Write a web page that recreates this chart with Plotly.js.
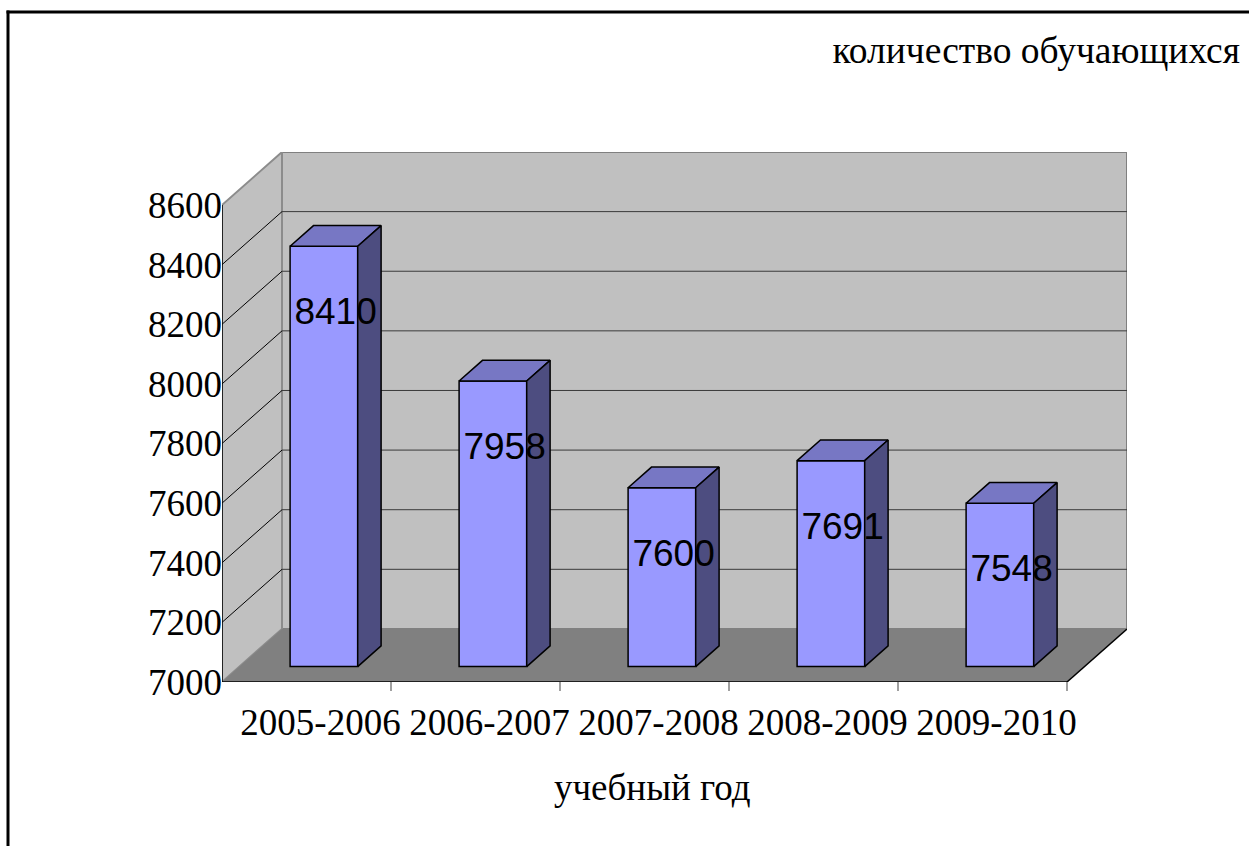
<!DOCTYPE html>
<html>
<head>
<meta charset="utf-8">
<script src="https://cdn.plot.ly/plotly-3.0.1.min.js"></script>
<style>html,body{margin:0;padding:0;background:#fff;overflow:hidden;}#chart{width:1249px;height:846px;}</style>
</head>
<body>
<div id="chart"></div>
<script>
// ---- data ----
const categories = ['2005-2006', '2006-2007', '2007-2008', '2008-2009', '2009-2010'];
const values = [8410, 7958, 7600, 7691, 7548];
const yTickValues = [7000, 7200, 7400, 7600, 7800, 8000, 8200, 8400, 8600];
const chartTitle = 'количество обучающихся';
const xTitle = 'учебный год';

// ---- 3D geometry (in axis units) ----
const YMIN = 7000, YMAX = 8600;
const DX = 0.355;   // depth shift along x (category units)
const DY = 178;     // depth shift along y (value units)
const F0 = 0.29;    // depth position of bar front face
const DB = 0.39;    // bar depth fraction
const BW = 0.40;    // bar width
const LABEL_DROP = 265;
const TICK_SHIFT = 0.083;

const xs = categories.map((c, i) => i);
const frontX = xs.map(x => x + F0 * DX);
const base = YMIN + F0 * DY;

const topX = [], topY = [], sideX = [], sideY = [];
values.forEach((v, i) => {
  const xl = frontX[i] - BW / 2, xr = frontX[i] + BW / 2;
  const top = v + F0 * DY;
  const ddx = DB * DX, ddy = DB * DY;
  topX.push(xl, xr, xr + ddx, xl + ddx, xl, null);
  topY.push(top, top, top + ddy, top + ddy, top, null);
  sideX.push(xr, xr + ddx, xr + ddx, xr, xr, null);
  sideY.push(base, base + ddy, top + ddy, top, base, null);
});

const traces = [
  {
    type: 'bar', x: frontX, y: values.map(v => v - YMIN), base: base,
    width: BW, marker: {color: '#9999FF', line: {color: '#000', width: 1.5}},
    hoverinfo: 'skip', showlegend: false
  },
  {
    type: 'scatter', mode: 'lines', x: topX, y: topY, fill: 'toself',
    fillcolor: '#7777C4', line: {color: '#000', width: 1.5},
    hoverinfo: 'skip', showlegend: false
  },
  {
    type: 'scatter', mode: 'lines', x: sideX, y: sideY, fill: 'toself',
    fillcolor: '#4D4D80', line: {color: '#000', width: 1.5},
    hoverinfo: 'skip', showlegend: false
  },
  {
    type: 'scatter', mode: 'text',
    x: frontX.map(x => x + DB * DX / 2),
    y: values.map(v => v - LABEL_DROP + (F0 + DB / 2) * DY),
    text: values.map(String), textposition: 'middle center',
    textfont: {family: 'Liberation Sans, Arial, sans-serif', size: 37, color: '#000'},
    hoverinfo: 'skip', showlegend: false, cliponaxis: false
  }
];

const XL = -0.5, XR = categories.length - 0.5;
const shapes = [];
// back wall
shapes.push({type: 'rect', xref: 'x', yref: 'y', layer: 'below',
  x0: XL + DX, x1: XR + DX, y0: YMIN + DY, y1: YMAX + DY,
  fillcolor: '#C0C0C0', line: {color: '#808080', width: 2}});
// left wall
shapes.push({type: 'path', xref: 'x', yref: 'y', layer: 'below',
  path: `M${XL},${YMIN} L${XL + DX},${YMIN + DY} L${XL + DX},${YMAX + DY} L${XL},${YMAX} Z`,
  fillcolor: '#C0C0C0', line: {color: '#8C8C8C', width: 2}});
// floor
shapes.push({type: 'path', xref: 'x', yref: 'y', layer: 'below',
  path: `M${XL},${YMIN} L${XR},${YMIN} L${XR + DX},${YMIN + DY} L${XL + DX},${YMIN + DY} Z`,
  fillcolor: '#808080', line: {width: 0}});
// gridlines
yTickValues.forEach(v => {
  if (v === YMIN || v === YMAX) return;
  shapes.push({type: 'line', xref: 'x', yref: 'y', layer: 'below',
    x0: XL + DX, x1: XR + DX, y0: v + DY, y1: v + DY, line: {color: '#3a3a3a', width: 1}});
  shapes.push({type: 'line', xref: 'x', yref: 'y', layer: 'below',
    x0: XL, x1: XL + DX, y0: v, y1: v + DY, line: {color: '#000', width: 1}});
});
// front edges
shapes.push({type: 'line', xref: 'x', yref: 'y', layer: 'below',
  x0: XL, x1: XL, y0: YMIN, y1: YMAX, line: {color: '#000', width: 1.5}});
shapes.push({type: 'line', xref: 'x', yref: 'y', layer: 'below',
  x0: XL, x1: XR, y0: YMIN, y1: YMIN, line: {color: '#000', width: 1.5}});
shapes.push({type: 'line', xref: 'x', yref: 'y', layer: 'below',
  x0: XR, x1: XR + DX, y0: YMIN, y1: YMIN + DY, line: {color: '#000', width: 1.5}});
// category tick marks
xs.forEach(x => {
  shapes.push({type: 'line', xref: 'x', yref: 'paper',
    x0: x + 0.5, x1: x + 0.5, y0: 0, y1: -0.017, line: {color: '#808080', width: 1.5}});
});
// outer chart border (top and left edges visible)
const W = 1249, H = 846, ML = 222, MR = 122, MT = 152, MB = 164;
const PW = W - ML - MR, PH = H - MT - MB;
const px2x = p => (p - ML) / PW, py2y = p => (H - MB - p) / PH;
shapes.push({type: 'line', xref: 'paper', yref: 'paper', layer: 'above',
  x0: px2x(6.5), x1: px2x(1260), y0: py2y(12), y1: py2y(12),
  line: {color: '#000', width: 3}});
shapes.push({type: 'line', xref: 'paper', yref: 'paper', layer: 'above',
  x0: px2x(8), x1: px2x(8), y0: py2y(10.5), y1: py2y(860),
  line: {color: '#000', width: 3}});

const serif = 'Liberation Serif, Times New Roman, serif';
const layout = {
  width: W, height: H, autosize: false,
  margin: {l: ML, r: MR, t: MT, b: MB, pad: 0},
  paper_bgcolor: '#fff', plot_bgcolor: 'rgba(0,0,0,0)',
  showlegend: false,
  title: {text: chartTitle, xref: 'container', x: 1240 / W, xanchor: 'right',
    yref: 'container', y: 1 - 50 / H, yanchor: 'middle',
    font: {family: serif, size: 37.5, color: '#000'}},
  xaxis: {type: 'linear', range: [XL, XR + DX], fixedrange: true,
    showgrid: false, zeroline: false, showline: false, ticks: '',
    tickmode: 'array', tickvals: xs.map(x => x + TICK_SHIFT), ticktext: categories,
    tickfont: {family: serif, size: 37, color: '#000'}, ticklabelstandoff: 15},
  yaxis: {type: 'linear', range: [YMIN, YMAX + DY], fixedrange: true,
    showgrid: false, zeroline: false, showline: false, ticks: '',
    tickmode: 'array', tickvals: yTickValues, ticktext: yTickValues.map(String),
    tickfont: {family: serif, size: 37, color: '#000'}, ticklabelstandoff: -1},
  shapes: shapes,
  annotations: [{text: xTitle, xref: 'paper', yref: 'paper',
    x: px2x(652), y: py2y(787), xanchor: 'center', yanchor: 'middle', showarrow: false,
    font: {family: serif, size: 37, color: '#000'}}]
};

Plotly.newPlot('chart', traces, layout, {displayModeBar: false, staticPlot: true});
</script>
</body>
</html>
